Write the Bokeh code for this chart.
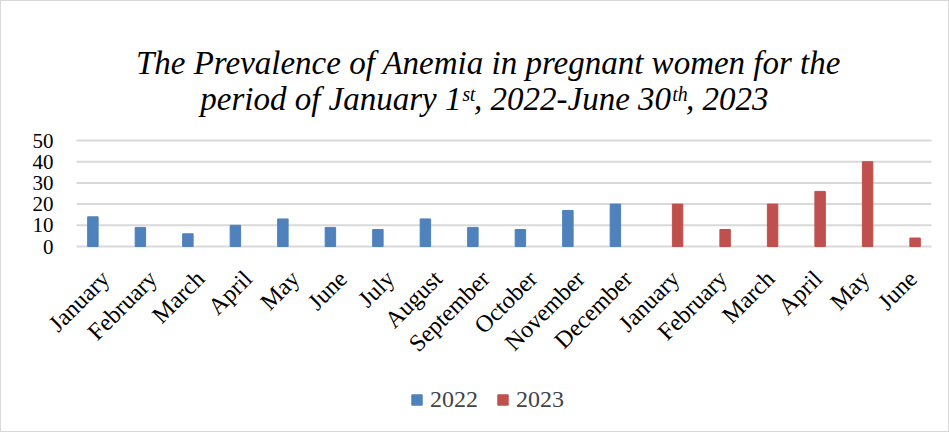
import numpy as np
from bokeh.plotting import figure
from bokeh.models import ColumnDataSource, Range1d, Legend, LegendItem
from bokeh.core.properties import value
from bokeh.embed import file_html
from bokeh.resources import INLINE

# ---- data ----
months = ["January", "February", "March", "April", "May", "June", "July", "August",
          "September", "October", "November", "December",
          "January", "February", "March", "April", "May", "June"]
values_2022 = [14, 9, 6, 10, 13, 9, 8, 13, 9, 8, 17, 20]
values_2023 = [20, 8, 20, 26, 40, 4]
y_ticks = [0, 10, 20, 30, 40, 50]
title_line1 = "The Prevalence of Anemia in pregnant women for the"
title_line2 = "period of  January 1\u02e2\u1d57, 2022-June 30\u1d57\u02b0, 2023"

BLUE = "#4F81BD"
RED = "#C0504D"
GRID = "#D9D9D9"
FONT = "Liberation Serif"

# ---- layout (pixels) ----
W, H = 947, 430            # canvas inside a 1px border
PLOT_L, PLOT_R = 75, 930   # category area (canvas px)
PLOT_T, PLOT_B = 139, 245  # value 50 .. value 0 (canvas px)
n = len(months)
ymax = y_ticks[-1]
xpx = (PLOT_R - PLOT_L) / n
ypx = (PLOT_B - PLOT_T) / ymax
x_start = -PLOT_L / xpx
x_end = x_start + W / xpx
y_start = -(H - PLOT_B) / ypx
y_end = y_start + H / ypx

def dx(px):   # canvas px -> data x
    return x_start + px / xpx

def dy(py):   # canvas px (from top) -> data y
    return y_end - py / ypx

centers = np.arange(n) + 0.5
off = 0.155
bw = 0.22

src22 = ColumnDataSource(dict(x=centers[:len(values_2022)] - off, top=values_2022))
src23 = ColumnDataSource(dict(x=centers[len(values_2022):] + off, top=values_2023))

p = figure(frame_width=W, frame_height=H, output_backend="svg", toolbar_location=None,
           x_range=Range1d(x_start, x_end), y_range=Range1d(y_start, y_end),
           x_axis_location=None, y_axis_location=None,
           min_border=0, min_border_left=0, min_border_right=0,
           min_border_top=0, min_border_bottom=0)
p.styles = {"border": "1px solid #d9d9d9"}
p.outline_line_color = None
p.xgrid.visible = False
p.ygrid.visible = False
p.xgrid.grid_line_color = None
p.ygrid.grid_line_color = None

# gridlines (value axis) from the tick values
p.segment(x0=0, x1=n, y0=y_ticks, y1=y_ticks, line_color=GRID, line_width=2)

r22 = p.vbar(x="x", top="top", width=bw, source=src22, fill_color=BLUE, line_color=BLUE)
r23 = p.vbar(x="x", top="top", width=bw, source=src23, fill_color=RED, line_color=RED)

# value tick labels
p.text(x=0, y=y_ticks, text=[str(t) for t in y_ticks], x_offset=-23,
       text_align="right", text_baseline="middle", text_font=value(FONT),
       text_font_size="21px", text_color="#000000")

# category labels, rotated 45 degrees
p.text(x=centers, y=np.zeros(n), text=months, angle=np.pi / 4,
       x_offset=-4, y_offset=19, text_align="right", text_baseline="top",
       text_font=value(FONT), text_font_size="24px", text_color="#000000")

# title (two lines)
tx = dx(487)
p.text(x=[tx, tx], y=[dy(61), dy(97)], text=[title_line1, title_line2],
       text_align="center", text_baseline="alphabetic", text_font=value(FONT),
       text_font_style="italic", text_font_size="33px", text_color="#000000")

legend = Legend(items=[LegendItem(label="2022", renderers=[r22]),
                       LegendItem(label="2023", renderers=[r23])],
                orientation="horizontal", location=(409, 18),
                label_text_font=FONT, label_text_font_size="24px",
                glyph_width=13, glyph_height=13, spacing=18, label_standoff=7,
                padding=0, margin=0,
                border_line_color=None, background_fill_alpha=0)
p.add_layout(legend)

open("out.html", "w").write(file_html(p, INLINE))
